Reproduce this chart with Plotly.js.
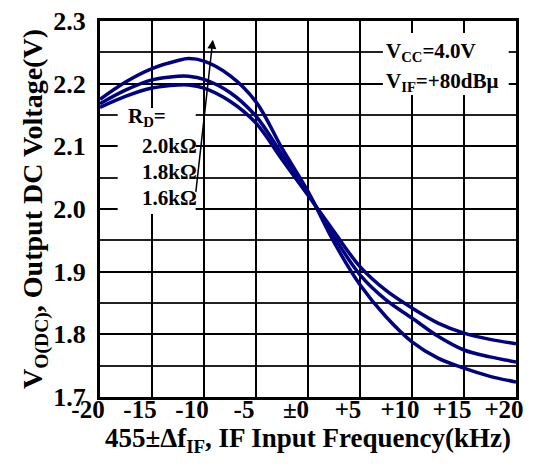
<!DOCTYPE html>
<html>
<head>
<meta charset="utf-8">
<script src="https://cdn.plot.ly/plotly-3.0.1.min.js"></script>
<style>html,body{margin:0;padding:0;background:#fff;}#chart{width:544px;height:473px;}</style>
</head>
<body>
<div id="chart"></div>
<script>
// Frequency offset (kHz)
const freq = [-20, -17.5, -15, -12.5, -11.5, -10, -7.5, -5, -2.5, 0, 2.5, 5, 7.5, 10, 12.5, 15, 17.5, 20];
// Output DC voltage (V) for each R_D
const v20k = [2.175, 2.203, 2.224, 2.237, 2.240, 2.236, 2.213, 2.171, 2.097, 2.028, 1.947, 1.879, 1.828, 1.788, 1.762, 1.746, 1.733, 1.724];
const v18k = [2.168, 2.190, 2.206, 2.212, 2.212, 2.207, 2.186, 2.148, 2.087, 2.025, 1.956, 1.895, 1.855, 1.826, 1.797, 1.775, 1.764, 1.756];
const v16k = [2.162, 2.180, 2.193, 2.198, 2.198, 2.193, 2.172, 2.137, 2.079, 2.022, 1.964, 1.908, 1.870, 1.842, 1.818, 1.802, 1.792, 1.785];
const seriesNames = ["2.0kΩ", "1.8kΩ", "1.6kΩ"];
const xTickVals = [-20, -15, -10, -5, 0, 5, 10, 15, 20];
const xTickText = ["-20", "-15", "-10", "-5", "±0", "+5", "+10", "+15", "+20"];
const yTickVals = [1.7, 1.8, 1.9, 2.0, 2.1, 2.2, 2.3];
const yTickText = ["1.7", "1.8", "1.9", "2.0", "2.1", "2.2", "2.3"];

const FONT = "'Liberation Serif', 'Times New Roman', serif";
const navy = "#000080";

const traces = [v20k, v18k, v16k].map((v, i) => ({
  x: freq, y: v, type: "scatter", mode: "lines", name: seriesNames[i],
  line: {color: navy, width: 3.5, shape: "spline", smoothing: 1},
  hoverinfo: "skip", showlegend: false
}));

const layout = {
  width: 544, height: 473,
  margin: {l: 100, r: 28, t: 21, b: 76},
  paper_bgcolor: "#fff", plot_bgcolor: "#fff",
  font: {family: FONT, color: "#000", size: 22},
  showlegend: false,
  xaxis: {
    range: [-20, 20], tickmode: "array", tickvals: xTickVals, ticktext: xTickText,
    showgrid: true, gridcolor: "#000", gridwidth: 2, zeroline: false,
    showline: true, linecolor: "#000", linewidth: 3, mirror: true,
    ticks: "", ticklabelshift: -12, ticklabelstandoff: -12,
    tickfont: {family: FONT, size: 25, color: "#000", weight: "bold"},
    title: {text: "<b>455±Δf<sub>IF</sub>, IF Input Frequency(kHz)</b>", standoff: 6,
            font: {family: FONT, size: 27, color: "#000"}}
  },
  yaxis: {
    range: [1.7, 2.3], tickmode: "array", tickvals: yTickVals, ticktext: yTickText,
    showgrid: true, gridcolor: "#000", gridwidth: 2, zeroline: false,
    minor: {dtick: 0.05, tick0: 1.7, showgrid: true, gridcolor: "#222", gridwidth: 2, ticks: ""},
    showline: true, linecolor: "#000", linewidth: 3, mirror: true,
    ticks: "", ticklabelstandoff: 6,
    tickfont: {family: FONT, size: 26, color: "#000", weight: "bold"},
    title: {text: "<b>V<sub>O(DC)</sub>, Output DC Voltage(V)</b>", standoff: 2,
            font: {family: FONT, size: 28, color: "#000"}}
  },
  shapes: [
    {type: "rect", xref: "x", yref: "y", x0: -18.3, x1: -10.8, y0: 1.992, y1: 2.161,
     fillcolor: "#fff", line: {width: 0}, layer: "between"},
    {type: "rect", xref: "x", yref: "y", x0: 7.2, x1: 19.3, y0: 2.182, y1: 2.281,
     fillcolor: "#fff", line: {width: 0}, layer: "between"}
  ],
  annotations: [
    {xref: "x", yref: "y", x: -17.5, y: 2.147, xanchor: "left", yanchor: "middle", showarrow: false,
     text: "<b>R<sub>D</sub>=</b>", font: {family: FONT, size: 21, color: "#000"}},
    {xref: "x", yref: "y", x: -16.2, y: 2.101, xanchor: "left", yanchor: "middle", showarrow: false,
     text: "<b>" + seriesNames[0] + "</b>", font: {family: FONT, size: 21, color: "#000"}},
    {xref: "x", yref: "y", x: -16.2, y: 2.059, xanchor: "left", yanchor: "middle", showarrow: false,
     text: "<b>" + seriesNames[1] + "</b>", font: {family: FONT, size: 21, color: "#000"}},
    {xref: "x", yref: "y", x: -16.2, y: 2.018, xanchor: "left", yanchor: "middle", showarrow: false,
     text: "<b>" + seriesNames[2] + "</b>", font: {family: FONT, size: 21, color: "#000"}},
    {xref: "x", yref: "y", x: 7.3, y: 2.250, xanchor: "left", yanchor: "middle", showarrow: false,
     text: "<b>V<sub>CC</sub>=4.0V</b>", font: {family: FONT, size: 21, color: "#000"}},
    {xref: "x", yref: "y", x: 7.3, y: 2.202, xanchor: "left", yanchor: "middle", showarrow: false,
     text: "<b>V<sub>IF</sub>=+80dBμ</b>", font: {family: FONT, size: 21, color: "#000"}},
    {xref: "x", yref: "y", x: -9.15, y: 2.270, axref: "x", ayref: "y", ax: -10.8, ay: 2.025,
     text: "", showarrow: true, arrowhead: 2, arrowsize: 1.2, arrowwidth: 1.5, arrowcolor: "#000"}
  ]
};

Plotly.newPlot("chart", traces, layout, {staticPlot: true, displayModeBar: false});
</script>
</body>
</html>
